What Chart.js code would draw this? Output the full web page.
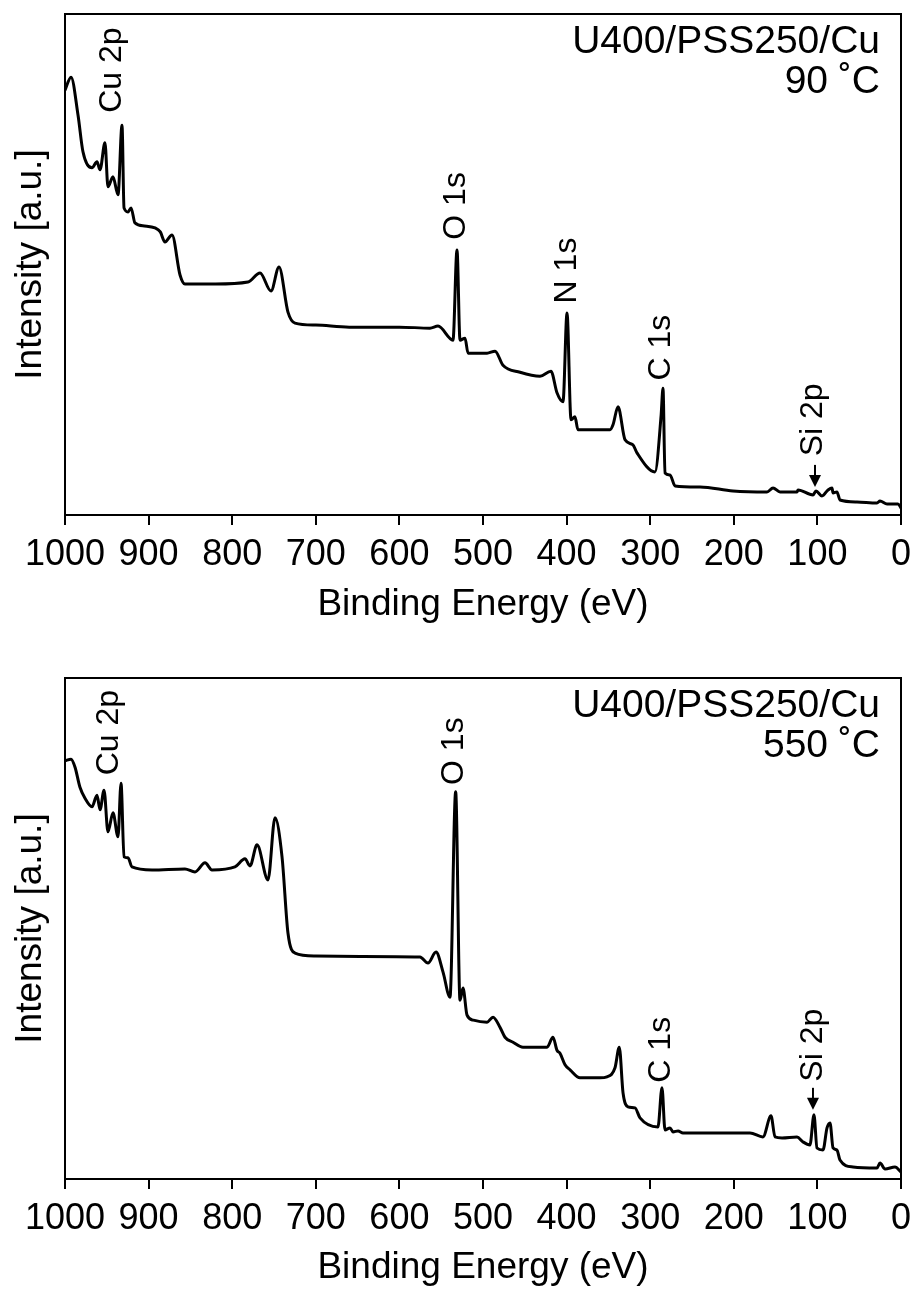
<!DOCTYPE html>
<html>
<head>
<meta charset="utf-8">
<title>XPS survey spectra – U400/PSS250/Cu</title>
<script src="https://cdn.jsdelivr.net/npm/chart.js@4.4.1/dist/chart.umd.min.js"></script>
<style>
  html, body { margin: 0; padding: 0; background: #fff; }
  #wrap { position: relative; width: 913px; height: 1296px; }
  canvas { display: block; }
</style>
</head>
<body>
<div id="wrap">
  <canvas id="panel90" width="913" height="648"></canvas>
  <canvas id="panel550" width="913" height="648"></canvas>
</div>
<script>
// Binding-energy axis ticks (eV)
const energyTicks = [0, 100, 200, 300, 400, 500, 600, 700, 800, 900, 1000];

// Survey spectrum, film annealed at 90 °C (binding energy in eV, intensity in a.u.)
const energy90 = [1000, 992.8, 984.4, 978.5, 967.7, 961.7, 958.1, 952.2, 948.6, 942.6,
  936.6, 931.8, 929.4, 924.6, 921.0, 916.3, 905.0, 892.3, 886.0, 880.4,
  872.0, 862.4, 856.5, 820.0, 781.1, 766.7, 753.6, 744.0, 733.3, 724.9,
  700.0, 660.0, 629.2, 600.0, 563.4, 553.8, 535.9, 531.1, 527.5, 521.5,
  517.9, 495.2, 485.6, 476.1, 455.7, 431.8, 418.7, 411.5, 404.3, 399.5,
  394.7, 390.0, 386.4, 348.1, 344.5, 338.5, 330.1, 320.6, 315.8, 294.3,
  286.9, 284.7, 282.3, 276.3, 270.3, 240.4, 201.0, 160.3, 153.1, 144.7,
  124.4, 123.2, 105.3, 101.7, 94.5, 87.3, 82.5, 81.3, 76.6, 73.0,
  52.6, 28.7, 25.1, 16.7, 3.6, 0];
const intensity90 = [84.8, 87.4, 79.8, 72.5, 69.3, 70.5, 68.9, 74.3, 65.5, 67.5,
  63.9, 77.8, 61.3, 60.5, 61.3, 58.3, 57.7, 57.3, 56.5, 54.5,
  55.9, 47.9, 46.1, 46.1, 46.5, 48.3, 44.7, 49.5, 40.5, 38.3,
  37.9, 37.5, 37.5, 37.5, 37.3, 37.7, 34.9, 52.9, 34.9, 35.3,
  32.3, 32.3, 32.7, 29.9, 28.5, 27.7, 28.7, 24.4, 22.6, 40.3,
  19.0, 19.6, 17.0, 17.0, 18.0, 21.6, 15.0, 14.0, 12.4, 8.6,
  20.0, 25.3, 8.4, 8.0, 5.8, 5.6, 4.8, 4.6, 5.4, 4.6,
  4.6, 5.0, 4.0, 4.8, 3.8, 5.0, 5.4, 4.4, 4.6, 3.0,
  2.6, 2.4, 2.8, 2.2, 2.2, 1.4];

// Survey spectrum, film annealed at 550 °C
const energy550 = [1000, 992.8, 988.0, 982.1, 976.1, 967.7, 961.7, 958.1, 953.3, 948.6,
  942.6, 936.6, 933.0, 929.4, 924.6, 919.9, 895.9, 856.5, 844.5, 832.5,
  824.2, 796.7, 784.7, 778.7, 770.3, 757.2, 748.8, 740.4, 733.3, 724.9,
  700.0, 647.1, 575.4, 565.8, 556.2, 547.8, 539.5, 532.7, 527.5, 523.9,
  519.1, 511.5, 495.2, 488.0, 479.7, 473.7, 464.1, 452.2, 423.4, 416.3,
  411.5, 407.9, 401.9, 395.9, 384.0, 360.0, 351.7, 342.1, 337.0, 332.5,
  326.6, 318.2, 312.2, 290.7, 285.9, 282.3, 276.3, 272.7, 266.7, 260.8,
  180.6, 165.1, 155.5, 150.7, 142.3, 124.4, 117.2, 108.9, 104.1, 100.5,
  93.3, 88.5, 84.9, 81.3, 76.6, 73.0, 57.4, 28.7, 25.1, 19.1,
  7.2, 0];
const intensity550 = [83.5, 83.8, 82.2, 78.2, 76.0, 74.3, 76.6, 73.7, 77.6, 69.3,
  73.1, 68.3, 79.0, 64.3, 64.1, 62.3, 61.7, 61.9, 61.3, 63.1,
  61.7, 62.3, 63.9, 62.5, 66.7, 59.7, 72.1, 64.3, 49.1, 45.1,
  44.5, 44.4, 44.3, 43.1, 45.3, 41.3, 36.3, 77.3, 35.7, 38.1,
  32.7, 31.7, 31.3, 32.3, 30.3, 28.3, 27.3, 26.3, 26.3, 28.3,
  25.7, 25.1, 22.8, 21.8, 20.2, 20.2, 20.4, 22.2, 26.3, 17.2,
  14.4, 14.2, 12.2, 10.4, 18.2, 9.8, 10.2, 9.4, 9.6, 9.2,
  9.2, 8.4, 12.6, 8.4, 8.2, 8.4, 7.4, 6.8, 12.8, 6.2,
  5.8, 10.2, 11.2, 6.2, 5.8, 3.8, 2.4, 2.2, 3.2, 2.0,
  2.4, 1.4];

// Peak assignments
const peakNames90 = ['Cu 2p', 'O 1s', 'N 1s', 'C 1s', 'Si 2p'];
const peakNames550 = ['Cu 2p', 'O 1s', 'C 1s', 'Si 2p'];

const FONT = "'Liberation Sans', Arial, Helvetica, sans-serif";
Chart.defaults.font.family = FONT;
Chart.defaults.color = '#000';

// Panel frame: closes the box on top and right
const framePlugin = {
  id: 'frame',
  afterDraw(chart) {
    const { ctx, chartArea: a } = chart;
    ctx.save();
    ctx.strokeStyle = '#000';
    ctx.lineWidth = 2;
    ctx.strokeRect(a.left, a.top, a.right - a.left, a.bottom - a.top);
    ctx.restore();
  }
};

// Rotated peak labels, Si 2p arrow and sample caption
const notesPlugin = {
  id: 'notes',
  afterDraw(chart, args, opts) {
    const { ctx, chartArea: a, scales: { x, y } } = chart;
    ctx.save();
    ctx.fillStyle = '#000';
    ctx.strokeStyle = '#000';
    ctx.font = `32px ${FONT}`;
    ctx.textAlign = 'center';
    ctx.textBaseline = 'middle';
    opts.peaks.forEach(p => {
      ctx.save();
      ctx.translate(x.getPixelForValue(p.e), y.getPixelForValue(p.v));
      ctx.rotate(-Math.PI / 2);
      ctx.fillText(p.text, 0, 0);
      ctx.restore();
    });
    // arrow pointing down at the Si 2p peak
    const ar = opts.arrow;
    const ax = x.getPixelForValue(ar.e);
    const y0 = y.getPixelForValue(ar.from);
    const y1 = y.getPixelForValue(ar.to);
    ctx.lineWidth = 2;
    ctx.beginPath();
    ctx.moveTo(ax, y0);
    ctx.lineTo(ax, y1 - 10);
    ctx.stroke();
    ctx.beginPath();
    ctx.moveTo(ax - 6, y1 - 12);
    ctx.lineTo(ax + 6, y1 - 12);
    ctx.lineTo(ax, y1);
    ctx.closePath();
    ctx.fill();
    // sample caption, top right
    ctx.font = `39px ${FONT}`;
    ctx.textAlign = 'right';
    ctx.textBaseline = 'alphabetic';
    opts.caption.forEach((line, i) => {
      ctx.fillText(line, a.right - 21, a.top + 39 + i * 40);
    });
    ctx.restore();
  }
};

function makePanel(id, energy, intensity, cfg) {
  const points = energy.map((e, i) => ({ x: e, y: intensity[i] }));
  return new Chart(document.getElementById(id), {
    type: 'line',
    data: {
      datasets: [{
        data: points,
        borderColor: '#000',
        borderWidth: 3,
        pointRadius: 0,
        cubicInterpolationMode: 'monotone',
        fill: false,
        borderJoinStyle: 'round',
        borderCapStyle: 'round'
      }]
    },
    options: {
      responsive: false,
      animation: false,
      devicePixelRatio: 1,
      layout: { padding: { top: cfg.padTop, right: 12, bottom: 0, left: 0 } },
      plugins: {
        legend: { display: false },
        tooltip: { enabled: false },
        notes: { peaks: cfg.peaks, arrow: cfg.arrow, caption: cfg.caption }
      },
      scales: {
        x: {
          type: 'linear',
          reverse: true,
          min: 0,
          max: 1000,
          afterBuildTicks: s => { s.ticks = energyTicks.map(v => ({ value: v })); },
          ticks: {
            autoSkip: false, maxRotation: 0, padding: 8,
            font: { size: 36 }, color: '#000',
            callback: v => String(v)
          },
          grid: {
            drawOnChartArea: false, drawTicks: true, tickLength: 10,
            tickWidth: 2, tickColor: '#000', color: '#000', lineWidth: 2
          },
          border: { display: true, color: '#000', width: 2 },
          title: {
            display: true, text: 'Binding Energy (eV)',
            font: { size: 37 }, color: '#000',
            padding: { top: 0, bottom: cfg.titlePad }
          },
          afterFit: s => { s.height = cfg.axisHeight; s.paddingLeft = 0; s.paddingRight = 0; }
        },
        y: {
          min: 0,
          max: 100,
          ticks: { display: false },
          grid: { display: false },
          border: { display: true, color: '#000', width: 2 },
          title: {
            display: true, text: 'Intensity [a.u.]',
            font: { size: 37 }, color: '#000',
            padding: { top: 9, bottom: 0 }
          },
          afterFit: s => { s.width = 65; }
        }
      }
    },
    plugins: [framePlugin, notesPlugin]
  });
}

makePanel('panel90', energy90, intensity90, {
  padTop: 14, axisHeight: 133, titlePad: 21,
  caption: ['U400/PSS250/Cu', '90 \u02DAC'],
  peaks: [
    { text: peakNames90[0], e: 943.2, v: 88.8 },
    { text: peakNames90[1], e: 531.7, v: 61.7 },
    { text: peakNames90[2], e: 398.9, v: 48.8 },
    { text: peakNames90[3], e: 286.5, v: 33.4 },
    { text: peakNames90[4], e: 104.7, v: 19.0 }
  ],
  arrow: { e: 102.9, from: 10.0, to: 5.6 }
});

makePanel('panel550', energy550, intensity550, {
  padTop: 30, axisHeight: 117, titlePad: 6,
  caption: ['U400/PSS250/Cu', '550 \u02DAC'],
  peaks: [
    { text: peakNames550[0], e: 947.4, v: 89.1 },
    { text: peakNames550[1], e: 534.1, v: 85.4 },
    { text: peakNames550[2], e: 286.5, v: 25.8 },
    { text: peakNames550[3], e: 104.7, v: 26.7 }
  ],
  arrow: { e: 105.3, from: 18.2, to: 13.8 }
});
</script>
</body>
</html>
